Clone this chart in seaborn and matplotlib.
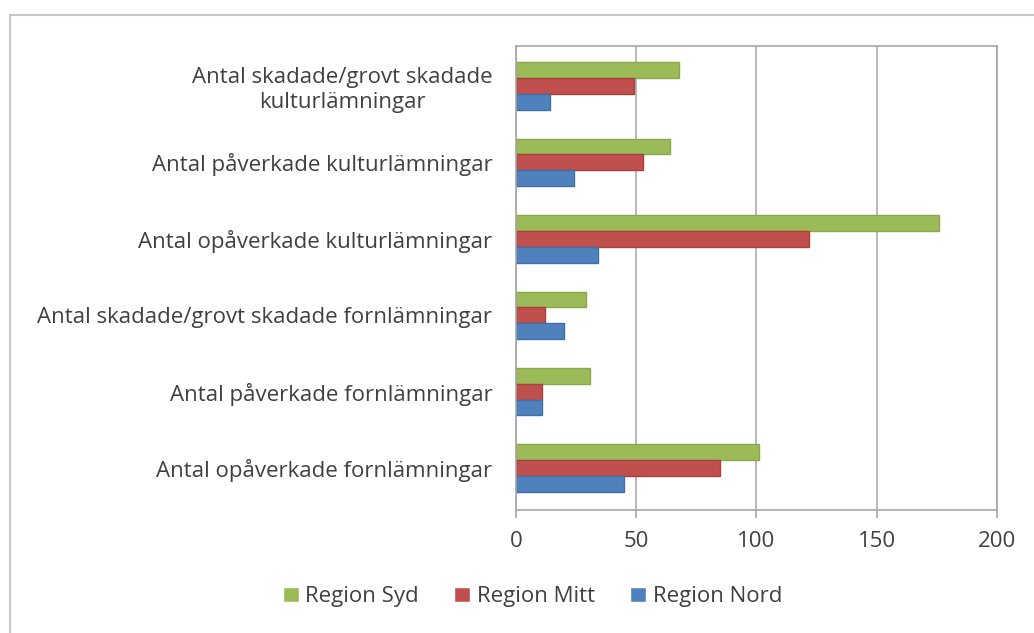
import seaborn as sns
import pandas as pd
import matplotlib.pyplot as plt
from matplotlib.patches import Rectangle

kategorier = ['Antal skadade/grovt skadade\nkulturlämningar',
              'Antal påverkade kulturlämningar',
              'Antal opåverkade kulturlämningar',
              'Antal skadade/grovt skadade fornlämningar',
              'Antal påverkade fornlämningar',
              'Antal opåverkade fornlämningar']
regioner = ['Region Syd', 'Region Mitt', 'Region Nord']
syd = [68, 64, 176, 29, 31, 101]
mitt = [49, 53, 122, 12, 11, 85]
nord = [14, 24, 34, 20, 11, 45]
farger = ['#9BBB59', '#C0504D', '#4F81BD']
kanter = ['#8AA84A', '#A9403D', '#3F6FA8']

df = pd.DataFrame({
    'kategori': kategorier * 3,
    'region': [r for r in regioner for _ in kategorier],
    'antal': syd + mitt + nord,
})

sns.set_style('white')
plt.rcParams['font.family'] = ['Open Sans', 'DejaVu Sans']

fig = plt.figure(figsize=(10.34, 6.33), dpi=100)
ax = fig.add_axes([0.499, 0.194, 0.465, 0.733])

sns.barplot(data=df, x='antal', y='kategori', hue='region', hue_order=regioner,
            palette=farger, saturation=1, orient='h', width=0.62, ax=ax, legend=True)

for cont, kant in zip(ax.containers, kanter):
    for bar in cont:
        bar.set_edgecolor(kant)
        bar.set_linewidth(1.0)

ax.set_xlim(0, 200)
ax.set_xticks([0, 50, 100, 150, 200])
ax.set_ylim(5.55, -0.52)
ax.set_xlabel('')
ax.set_ylabel('')
ax.xaxis.grid(True, color='#B3B3B3', linewidth=1.3)
ax.set_axisbelow(True)
for s in ax.spines.values():
    s.set_color('#A6A6A6')
    s.set_linewidth(1.2)

ax.tick_params(axis='x', labelsize=16, colors='#404040', length=6, width=1.2,
               direction='out', pad=9, bottom=True)
ax.tick_params(axis='x', color='#A6A6A6')
ax.tick_params(axis='y', labelsize=16, colors='#404040', length=0, pad=17)
for lab in ax.get_yticklabels():
    lab.set_multialignment('center')
    lab.set_linespacing(1.25)

ax.legend(loc='center', bbox_to_anchor=(0.515, 0.057), bbox_transform=fig.transFigure,
          ncol=3, frameon=False, fontsize=16, handlelength=0.7, handleheight=0.7,
          handletextpad=0.3, columnspacing=1.6, labelcolor='#404040')

fig.patches.append(Rectangle((0.0097, -0.05), 1.2, 1.026, transform=fig.transFigure,
                             fill=False, edgecolor='#C8C8C8', linewidth=1.5))

fig.savefig('out.png', dpi=100)
